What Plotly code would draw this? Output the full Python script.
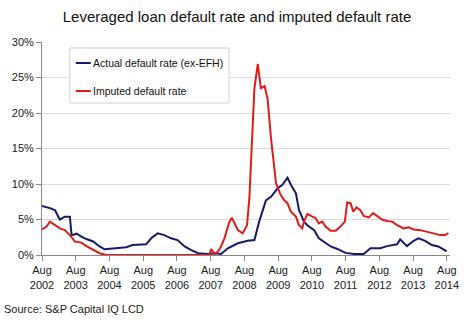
import plotly.graph_objects as go

# Decimal-year positions and values (%)
actual_t = [2002.58, 2002.82, 2002.97, 2003.11, 2003.26, 2003.41, 2003.46, 2003.61, 2003.75, 2003.90,
            2004.10, 2004.29, 2004.44, 2004.64, 2004.88, 2005.08, 2005.27, 2005.47, 2005.67, 2005.82,
            2006.01, 2006.21, 2006.41, 2006.60, 2006.81, 2007.01, 2007.21, 2007.50, 2007.70, 2007.89,
            2008.09, 2008.39, 2008.68, 2008.88, 2009.02, 2009.22, 2009.37, 2009.57, 2009.71, 2009.86,
            2009.96, 2010.11, 2010.20, 2010.25, 2010.35, 2010.45, 2010.65, 2010.79, 2010.94, 2011.14,
            2011.34, 2011.58, 2011.83, 2012.12, 2012.32, 2012.61, 2012.81, 2013.11, 2013.20, 2013.40,
            2013.60, 2013.74, 2013.94, 2014.14, 2014.33, 2014.58]
actual_v = [6.9, 6.6, 6.3, 5.0, 5.4, 5.4, 2.8, 3.0, 2.6, 2.25,
            1.9, 1.2, 0.8, 0.9, 0.95, 1.1, 1.4, 1.5, 1.5, 2.35,
            3.05, 2.8, 2.35, 2.1, 1.2, 0.7, 0.25, 0.15, 0.25, 0.15,
            0.95, 1.65, 2.0, 2.1, 4.7, 7.7, 8.2, 9.4, 9.9, 10.9,
            9.9, 8.7, 6.3, 5.8, 4.7, 4.2, 3.5, 2.35, 1.9, 1.2,
            0.85, 0.3, 0.15, 0.15, 0.95, 0.95, 1.25, 1.5, 2.2, 1.25,
            2.0, 2.35, 2.0, 1.4, 1.2, 0.5]

imputed_t = [2002.58, 2002.72, 2002.82, 2002.97, 2003.11, 2003.26, 2003.41, 2003.56, 2003.75, 2003.90,
             2004.10, 2004.29, 2004.49, 2005.50, 2006.50, 2007.40, 2007.54, 2007.60, 2007.70, 2007.80,
             2007.89, 2007.99, 2008.14, 2008.21, 2008.29, 2008.39, 2008.53, 2008.66, 2008.73, 2008.78,
             2008.88, 2008.98, 2009.07, 2009.18, 2009.27, 2009.37, 2009.45, 2009.52, 2009.66, 2009.76,
             2009.86, 2009.96, 2010.11, 2010.20, 2010.30, 2010.35, 2010.45, 2010.60, 2010.70, 2010.79,
             2010.89, 2010.99, 2011.14, 2011.29, 2011.43, 2011.56, 2011.63, 2011.73, 2011.81, 2011.91,
             2012.02, 2012.12, 2012.27, 2012.40, 2012.52, 2012.66, 2012.81, 2012.96, 2013.11, 2013.30,
             2013.45, 2013.60, 2013.79, 2013.99, 2014.19, 2014.38, 2014.53, 2014.63]
imputed_v = [3.6, 4.0, 4.7, 4.2, 3.75, 3.5, 2.8, 1.9, 1.75, 1.25,
             0.7, 0.25, 0.0, 0.0, 0.0, 0.0, 0.0, 0.85, 0.1, 0.5,
             1.2, 2.35, 4.7, 5.25, 4.45, 3.5, 3.05, 4.2, 8.0, 13.0,
             23.5, 26.9, 23.5, 23.8, 22.0, 16.5, 12.5, 10.1, 8.45, 7.75,
             7.3, 6.1, 5.4, 4.2, 3.75, 4.7, 5.8, 5.4, 5.15, 4.45,
             4.7, 4.0, 3.4, 3.4, 4.0, 4.7, 7.4, 7.3, 6.1, 6.7,
             6.3, 5.5, 5.3, 5.9, 5.5, 5.0, 4.8, 4.7, 4.2, 3.75,
             3.9, 3.6, 3.5, 3.3, 3.05, 2.8, 2.8, 3.1]

series_names = ["Actual default rate (ex-EFH)", "Imputed default rate"]
series_colors = ["#161a6b", "#e01b1b"]

tick_years = list(range(2002, 2015))
tick_vals = [y + 7 / 12 for y in tick_years]
tick_text = [f"Aug<br>{y}" for y in tick_years]

FONT = "Liberation Sans, Arial, sans-serif"
PW, PH = 410, 213  # plot area size in px (for paper-coordinate placement)

fig = go.Figure()
for t, v, name, color in [(actual_t, actual_v, series_names[0], series_colors[0]),
                          (imputed_t, imputed_v, series_names[1], series_colors[1])]:
    fig.add_trace(go.Scatter(x=t, y=v, mode="lines", name=name,
                             line=dict(color=color, width=2), showlegend=False))

fig.update_layout(
    width=474, height=322,
    margin=dict(l=40, r=24, t=42, b=67),
    paper_bgcolor="white", plot_bgcolor="white",
    font=dict(family=FONT, size=11, color="#222"),
    title=dict(text="Leveraged loan default rate and imputed default rate",
               x=0.5, xanchor="center", y=0.948, yanchor="middle",
               font=dict(family=FONT, size=15, color="#111")),
)
fig.update_xaxes(range=[2002 + 7 / 12, 2014.677], tickvals=tick_vals, ticktext=tick_text,
                 showgrid=False, showline=True, linecolor="#888", linewidth=1,
                 ticks="outside", ticklen=5, tickcolor="#888", zeroline=False,
                 tickfont=dict(family=FONT, size=11, color="#222"))
fig.update_yaxes(range=[0, 30], dtick=5, ticksuffix="%", showgrid=True, gridcolor="#dcdcdc",
                 showline=True, linecolor="#888", linewidth=1, ticks="outside", ticklen=5,
                 tickcolor="#888", zeroline=False,
                 tickfont=dict(family=FONT, size=11, color="#222"))

# Legend box (drawn manually to match the compact reference legend)
def px_x(px):
    return (px - 40) / PW

def px_y(py):
    return (255 - py) / PH

fig.add_shape(type="rect", xref="paper", yref="paper",
              x0=px_x(68), x1=px_x(228), y0=px_y(103), y1=px_y(48),
              line=dict(color="#d4d4d4", width=1), fillcolor="white", layer="above")
for i, (name, color) in enumerate(zip(series_names, series_colors)):
    yy = [63, 91][i]
    fig.add_shape(type="line", xref="paper", yref="paper",
                  x0=px_x(74), x1=px_x(89), y0=px_y(yy), y1=px_y(yy),
                  line=dict(color=color, width=2), layer="above")
    fig.add_annotation(text=name, xref="paper", yref="paper",
                       x=px_x(89), y=px_y(yy), xanchor="left", yanchor="middle",
                       showarrow=False, font=dict(family=FONT, size=10.5, color="#111"))

fig.add_annotation(text="Source: S&P Capital IQ LCD", xref="paper", yref="paper",
                   x=-40 / PW, y=-54 / PH, xanchor="left", yanchor="middle",
                   showarrow=False, font=dict(family=FONT, size=11, color="#222"))

fig.write_html("out.html")
